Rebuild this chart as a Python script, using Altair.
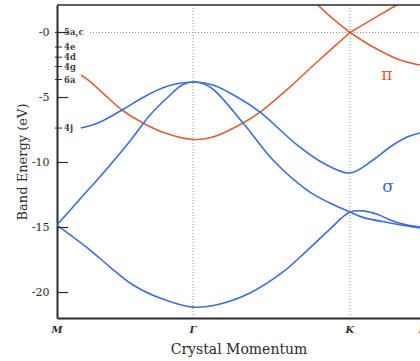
import altair as alt
import pandas as pd

# Symmetry points along the path M - Gamma - K - M (units of |M-Gamma|)
sym_k = [0.0, 1.0, 2.154, 2.70]
sym_names = ["M", "Γ", "K", "M"]

# Energy bands (eV) sampled along k; pi bands split at K where they cross
pi_v1_k = [0.176, 0.228, 0.353, 0.478, 0.632, 0.794, 1.0, 1.147, 1.368, 1.493, 1.713, 1.912, 2.154]
pi_v1_E = [-3.27, -3.65, -4.81, -5.96, -6.96, -7.73, -8.23, -8.04, -6.96, -6.12, -4.19, -2.27, 0.0]
pi_v2_k = [2.154, 2.324, 2.522, 2.669, 2.70]
pi_v2_E = [0.0, -1.12, -2.12, -2.50, -2.56]

pi_c1_k = [1.75, 1.919, 2.154]
pi_c1_E = [4.5, 2.12, 0.0]
pi_c2_k = [2.154, 2.324, 2.50, 2.70]
pi_c2_E = [0.0, 1.05, 2.12, 3.2]

sig_c_k = [0.176, 0.301, 0.478, 0.625, 0.794, 1.0, 1.147, 1.324, 1.493, 1.765, 1.956, 2.154, 2.324, 2.449, 2.574, 2.669, 2.70]
sig_c_E = [-7.35, -6.96, -5.96, -5.04, -4.19, -3.81, -4.04, -4.96, -6.12, -8.65, -10.04, -10.81, -9.81, -8.81, -8.04, -7.73, -7.68]

sig_b_k = [0.0, 0.169, 0.353, 0.537, 0.684, 0.816, 0.919, 1.0, 1.125, 1.368, 1.588, 1.838, 2.007, 2.154, 2.25, 2.449, 2.669, 2.70]
sig_b_E = [-14.81, -12.81, -10.65, -8.35, -6.35, -4.96, -4.04, -3.81, -4.19, -6.96, -9.81, -12.12, -13.12, -13.81, -14.22, -14.65, -15.04, -15.08]

sig_a_k = [0.0, 0.243, 0.39, 0.559, 0.757, 1.0, 1.199, 1.419, 1.662, 1.787, 1.882, 2.007, 2.154, 2.25, 2.36, 2.449, 2.559, 2.669, 2.70]
sig_a_E = [-14.81, -16.73, -18.04, -19.42, -20.42, -21.12, -20.88, -20.04, -18.42, -17.27, -16.35, -15.12, -13.81, -13.72, -14.0, -14.42, -14.78, -14.96, -15.0]

# Major energy ticks and atomic level markers on the energy axis
major_E = [0, -5, -10, -15, -20]
level_names = ["5a,c", "4e", "4d", "4g", "6a", "4j"]
level_E = [0.0, -1.12, -1.90, -2.62, -3.62, -7.35]

RED = "#dc6138"
BLUE = "#3b6ddb"
INK = "#2b2b2b"
SERIF = "DejaVu Serif"

rows = []
for seg, grp, ks, es in [
    ("pi_v1", "pi", pi_v1_k, pi_v1_E),
    ("pi_v2", "pi", pi_v2_k, pi_v2_E),
    ("pi_c1", "pi", pi_c1_k, pi_c1_E),
    ("pi_c2", "pi", pi_c2_k, pi_c2_E),
    ("sig_c", "sigma", sig_c_k, sig_c_E),
    ("sig_b", "sigma", sig_b_k, sig_b_E),
    ("sig_a", "sigma", sig_a_k, sig_a_E),
]:
    for k, e in zip(ks, es):
        rows.append({"k": k, "E": e, "seg": seg, "grp": grp})
bands = pd.DataFrame(rows)

W, H = 363, 313
xs = alt.Scale(domain=[0, 2.669], nice=False, zero=False)
ys = alt.Scale(domain=[-21.96, 2.115], nice=False, zero=False)

x_enc = alt.X("k:Q", scale=xs, axis=alt.Axis(
    labels=False, ticks=False, grid=False, domainColor=INK, domainWidth=2,
    title="Crystal Momentum", titleFont=SERIF, titleFontSize=14,
    titleFontWeight="normal", titleColor=INK, titlePadding=24))
y_enc = alt.Y("E:Q", scale=ys, axis=alt.Axis(
    values=major_E, ticks=False, grid=False, domainColor=INK, domainWidth=2,
    labelExpr="'-' + abs(datum.value)", labelFont=SERIF, labelFontSize=11,
    labelColor=INK, labelPadding=8,
    title="Band Energy (eV)", titleFont=SERIF, titleFontSize=13,
    titleFontWeight="normal", titleColor=INK, titlePadding=2))

lines = alt.Chart(bands).mark_line(interpolate="catmull-rom", clip=True, strokeWidth=1.6).encode(
    x=x_enc, y=y_enc, detail="seg:N",
    color=alt.Color("grp:N", scale=alt.Scale(domain=["pi", "sigma"], range=[RED, BLUE]), legend=None),
)

vdots = alt.Chart(pd.DataFrame({"k": sym_k[1:3]})).mark_rule(
    color="#8a8a8a", strokeDash=[1, 2], strokeWidth=1).encode(x=alt.X("k:Q", scale=xs))

hdot = alt.Chart(pd.DataFrame({"k0": [0.243], "k1": [2.669], "E": [0.0]})).mark_rule(
    color="#8a8a8a", strokeDash=[1, 2], strokeWidth=1).encode(
    x=alt.X("k0:Q", scale=xs), x2="k1:Q", y=alt.Y("E:Q", scale=ys))

top = alt.Chart(pd.DataFrame({"v": [0]})).mark_rule(color=INK, strokeWidth=1.5).encode(
    x=alt.value(0), x2=alt.value(W), y=alt.value(0))

majors = alt.Chart(pd.DataFrame({"E": major_E})).mark_rule(color=INK, strokeWidth=1.2).encode(
    x=alt.value(0), x2=alt.value(11), y=alt.Y("E:Q", scale=ys))

lvl = pd.DataFrame({"E": level_E, "name": level_names})
lvl_ticks = alt.Chart(lvl).mark_rule(color=INK, strokeWidth=1).encode(
    x=alt.value(-2), x2=alt.value(5), y=alt.Y("E:Q", scale=ys))
lvl_text = alt.Chart(lvl).mark_text(
    align="left", baseline="middle", font=SERIF, fontSize=8.5, fontWeight="bold", color="#444").encode(
    x=alt.value(7), y=alt.Y("E:Q", scale=ys), text="name:N")

sym = pd.DataFrame({"k": sym_k, "name": sym_names})
sym_text = alt.Chart(sym).mark_text(
    baseline="top", font=SERIF, fontSize=10, fontStyle="italic", fontWeight="bold", color=INK, dy=7).encode(
    x=alt.X("k:Q", scale=xs), y=alt.value(H), text="name:N")

band_lbl = pd.DataFrame({"k": [2.426, 2.434], "E": [-3.27, -11.9], "name": ["π", "σ"], "grp": ["pi", "sigma"]})
band_text = alt.Chart(band_lbl).mark_text(font=SERIF, fontSize=17, baseline="middle").encode(
    x=alt.X("k:Q", scale=xs), y=alt.Y("E:Q", scale=ys), text="name:N",
    color=alt.Color("grp:N", scale=alt.Scale(domain=["pi", "sigma"], range=[RED, BLUE]), legend=None))

chart = alt.layer(
    vdots, hdot, lines, top, majors, lvl_ticks, lvl_text, sym_text, band_text
).properties(
    width=W, height=H,
    autosize=alt.AutoSizeParams(type="none"),
    padding={"left": 57, "top": 5, "right": 0, "bottom": 43},
    background="white",
).configure_view(stroke=None)

chart.save("out.html", embed_options={"renderer": "svg", "actions": False})
